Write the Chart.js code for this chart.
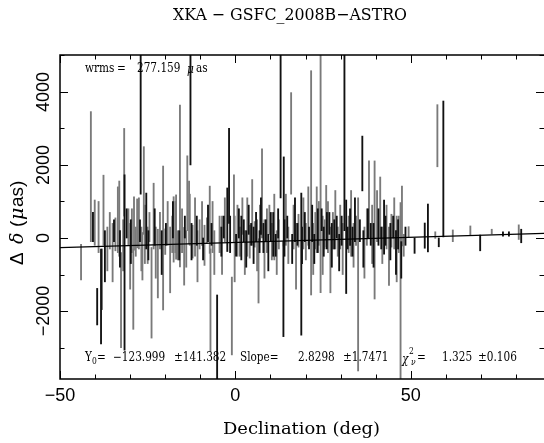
<!DOCTYPE html>
<html>
<head>
<meta charset="utf-8">
<script src="https://cdn.jsdelivr.net/npm/chart.js@4/dist/chart.umd.min.js"></script>
<style>
 body{margin:0;background:#fff;}
 #box{width:544px;height:443px;}
</style>
</head>
<body>
<div id="box"><canvas id="grafico" width="544" height="443"></canvas></div>
<script>
//Datos (declinacion, valor central, error)
const grayDec = [-44.0,-41.2,-40.1,-38.0,-37.6,-33.1,-32.6,-31.7,-29.1,-28.9,-28.0,-26.5,-26.1,-23.9,-22.1,-20.6,-17.6,-16.9,-15.8,-14.6,-13.7,-13.2,-7.3,-7.1,-1.0,-0.4,6.6,7.6,15.9,21.6,23.2,24.3,25.9,35.0,38.1,39.7,41.3,47.1,47.5,57.6,
 -39.0,-36.5,-35.8,-35.0,-34.2,-33.5,-32.0,-30.5,-30.0,-29.5,-28.4,-27.5,-26.8,-25.8,-25.0,-24.5,-23.3,-22.7,-21.5,-20.0,-19.3,-18.6,-18.0,-17.1,-16.4,-15.2,-14.0,-13.0,-12.2,-11.5,-10.8,-10.2,-9.5,-8.8,-8.1,-6.5,-6.0,-4.5,-3.8,-3.0,-0.2,0.6,1.3,2.0,2.7,3.4,4.1,4.8,5.5,6.2,7.0,8.3,9.0,9.7,10.4,11.1,11.8,12.4,14.4,15.1,16.6,17.3,18.0,19.4,20.1,20.8,22.2,22.8,23.8,24.9,25.5,26.4,27.1,27.8,28.5,29.2,29.9,30.6,32.3,33.0,33.7,34.4,36.8,37.5,39.0,40.4,41.9,43.1,43.8,44.5,45.3,46.0,46.6,48.0,
 49.4,57.0,62.0,67.0,73.1,80.8];
const grayVal = [-660,1680,420,-1130,760,530,-1700,1800,-1400,400,400,-500,1300,-1500,-700,0,235,300,1425,-500,1225,700,500,-1700,-2135,800,-900,1220,2590,1510,500,3000,600,-1270,1050,220,835,-2000,600,2800,
 300,-300,200,-400,100,500,-200,300,-500,200,-100,400,-300,100,-200,300,600,-400,200,-100,400,-600,100,300,-200,200,-300,500,-100,300,-500,100,400,-200,200,300,-400,100,-200,500,-300,200,-100,600,-400,300,-100,700,100,-200,400,-300,200,500,-100,300,-400,100,500,-200,300,-500,200,400,-100,600,-300,200,400,-200,100,300,-600,200,500,-100,300,-300,100,400,-200,200,-400,300,100,600,-200,300,-500,200,400,-300,100,-200,
 170,80,60,205,175,160];
const grayErr = [490,1780,620,830,960,1030,1300,1200,1100,730,670,650,1200,1240,940,1970,895,880,2215,790,1025,860,920,1400,1065,930,880,1220,1390,3070,900,4500,840,2370,1060,1890,835,2970,820,850,
 700,600,500,800,450,900,700,500,900,600,400,700,600,800,500,400,900,700,500,350,600,900,500,700,400,600,500,700,450,800,700,400,600,550,350,700,600,500,800,600,900,700,400,500,600,800,450,900,350,700,500,800,600,400,500,900,600,400,700,500,600,900,450,700,500,800,700,500,600,800,400,700,900,500,800,400,600,700,500,900,600,400,700,500,800,700,500,600,800,450,700,900,500,300,
 140,90,160,125,65,200];

const blackDec = [-39.4,-38.3,-31.6,-27.0,-25.4,-12.8,-5.2,-2.3,-1.8,12.9,13.7,13.8,18.8,31.1,31.6,36.2,42.4,59.3,
 -40.6,-37.2,-34.6,-32.9,-31.0,-29.8,-27.2,-24.8,-23.0,-21.0,-19.8,-17.8,-16.0,-14.4,-12.5,-11.0,-9.2,-7.8,-6.8,-4.0,-3.3,-1.5,0.2,1.0,1.7,2.4,3.1,3.8,4.5,5.2,5.9,6.9,7.3,8.0,8.7,9.4,10.1,10.8,11.5,12.2,14.0,14.8,16.2,17.0,17.7,19.0,19.8,21.0,21.9,22.5,23.5,24.6,25.2,26.1,26.8,27.5,28.2,28.9,29.6,30.3,32.0,32.7,33.4,34.1,35.5,36.5,37.8,38.6,39.4,40.8,41.6,42.8,44.2,45.0,45.8,46.4,47.3,48.5,
 51.1,54.0,54.9,58.0,69.8,76.3,78.0,81.5];
const blackVal = [-1880,-1600,-670,4600,465,5500,-3280,500,1700,5000,-1400,1000,-715,4600,-240,2040,300,1890,
 300,-500,200,-300,400,-100,200,-200,300,-400,100,500,-200,300,-100,200,-300,400,100,-100,300,100,-200,400,0,200,-300,500,100,-200,300,-100,600,0,200,-400,300,100,-200,400,0,300,-300,500,100,-200,300,0,400,-300,200,500,-100,200,400,-200,100,300,-400,200,0,300,-100,500,200,-300,400,100,-200,300,0,200,-100,300,-400,100,-600,50,
 -210,65,275,-120,-135,110,110,55];
const blackErr = [500,1300,2400,3400,765,3500,1720,870,1300,3900,1300,1220,1945,4400,1280,750,740,1860,
 400,700,300,500,400,600,300,400,500,600,300,500,400,300,500,400,300,500,300,400,300,500,300,400,600,300,500,400,300,500,400,300,500,400,300,500,400,600,300,400,500,300,400,600,300,500,400,300,500,400,600,300,400,500,300,600,400,300,500,400,300,500,400,600,300,500,400,300,600,500,300,400,500,300,600,400,500,250,
 210,345,655,120,215,60,60,185];

//Parametros del ajuste lineal
const fitY0 = -123.999;
const fitSlope = 2.8298;
const fitX = [-50, 88];

//Marcas de los ejes
const xTickVals = [-50, 0, 50];
const xTickLabels = ['\u221250', '0', '50'];
const yTickVals = [-2000, 0, 2000, 4000];
const yTickLabels = ['\u22122000', '0', '2000', '4000'];

//Armo las barras flotantes [y-err, y+err]
function armarBarras(decs, vals, errs) {
 let puntos = [];
 for (let i = 0; i < decs.length; i++) {
  puntos.push({x: decs[i], y: [vals[i] - errs[i], vals[i] + errs[i]]});
 }
 return puntos;
}

//Escribe varios trozos de texto: [texto, x, fuente, desplazamiento y, ancho deseado]
function escribir(ctx, trozos, y, compresion) {
 for (const t of trozos) {
  ctx.font = t[2];
  const yy = y + (t[3] || 0);
  let k = compresion || 1;
  if (t[4]) k = t[4] / ctx.measureText(t[0]).width;
  ctx.save();
  ctx.translate(t[1], yy);
  ctx.scale(k, 1);
  ctx.fillText(t[0], 0, 0);
  ctx.restore();
 }
}

//Plugin para dibujar marco, marcas y textos al estilo PGPLOT
const decoracion = {
 id: 'decoracion',
 afterDraw(chart) {
  const ctx = chart.ctx;
  const a = chart.chartArea;
  const sx = chart.scales.x, sy = chart.scales.y;
  ctx.save();
  ctx.strokeStyle = '#000';
  ctx.lineWidth = 1.5;
  ctx.beginPath();
  ctx.moveTo(a.right, a.top); ctx.lineTo(a.left, a.top);
  ctx.lineTo(a.left, a.bottom); ctx.lineTo(a.right, a.bottom);
  ctx.stroke();

  ctx.lineWidth = 1;
  ctx.beginPath();
  for (let v = -50; v <= 80; v += 10) {
   const px = Math.round(sx.getPixelForValue(v)) + 0.5;
   const len = (v % 50 === 0) ? 8 : 4.5;
   ctx.moveTo(px, a.bottom); ctx.lineTo(px, a.bottom - len);
   ctx.moveTo(px, a.top); ctx.lineTo(px, a.top + len);
  }
  for (let v = -3000; v <= 5000; v += 1000) {
   const py = Math.round(sy.getPixelForValue(v)) + 0.5;
   const len = (v % 2000 === 0) ? 8 : 4.5;
   ctx.moveTo(a.left, py); ctx.lineTo(a.left + len, py);
   ctx.moveTo(a.right, py); ctx.lineTo(a.right - len, py);
  }
  ctx.stroke();

  ctx.fillStyle = '#000';
  //Etiquetas del eje x
  ctx.font = '18px "Liberation Sans"';
  ctx.textAlign = 'center';
  ctx.textBaseline = 'middle';
  for (let i = 0; i < xTickVals.length; i++) {
   ctx.fillText(xTickLabels[i], sx.getPixelForValue(xTickVals[i]), 396);
  }
  //Etiquetas del eje y (rotadas)
  for (let i = 0; i < yTickVals.length; i++) {
   ctx.save();
   ctx.translate(44, sy.getPixelForValue(yTickVals[i]));
   ctx.rotate(-Math.PI / 2);
   ctx.fillText(yTickLabels[i], 0, 0);
   ctx.restore();
  }

  //Titulo y nombre del eje x
  ctx.textAlign = 'left';
  escribir(ctx, [['XKA \u2212 GSFC_2008B\u2212ASTRO', 173, '17px "DejaVu Serif"', 0, 234]], 16);
  escribir(ctx, [['Declination (deg)', 223, '16px "DejaVu Serif"', 0, 157]], 430);

  //Nombre del eje y
  ctx.save();
  ctx.translate(18, 215);
  ctx.rotate(-Math.PI / 2);
  const sans = '19px "Liberation Sans"', ital = 'italic 19px "DejaVu Serif"';
  escribir(ctx, [['\u0394', -50, sans], ['\u03b4', -29, ital], ['(', -12, sans], ['\u03bc', -5, ital], ['as)', 8, sans]], 0);
  ctx.restore();

  //Textos internos
  const f = '12.5px "DejaVu Serif"', fi = 'italic 12.5px "DejaVu Serif"', fs = '9px "DejaVu Serif"', fsi = 'italic 9px "DejaVu Serif"';
  escribir(ctx, [['wrms', 85, f], ['=', 117, f], ['277.159', 137, f], ['\u03bc', 187, fi, 1], ['as', 196, f]], 69, 0.84);
  escribir(ctx, [['Y', 85, f], ['0', 92, fs, 4], ['=', 97, f], ['\u2212123.999', 113, f], ['\u00b1141.382', 174, f],
   ['Slope=', 240, f], ['2.8298', 298, f], ['\u00b11.7471', 343, f],
   ['\u03c7', 402, fi, 2], ['2', 409, fs, -6], ['\u03bd', 411, fsi, 5], ['=', 417, f],
   ['1.325', 442, f], ['\u00b10.106', 478, f]], 358, 0.84);
  ctx.restore();
 }
};

var canvas = document.getElementById('grafico');
new Chart(canvas, {
 type: 'bar',
 data: {
  datasets: [
   {
    type: 'line',
    data: fitX.map(v => ({x: v, y: fitY0 + fitSlope * v})),
    borderColor: '#000',
    borderWidth: 1.3,
    pointRadius: 0,
    order: 0,
    clip: 0
   },
   {
    data: armarBarras(blackDec, blackVal, blackErr),
    backgroundColor: '#111',
    barThickness: 1.2,
    grouped: false,
    order: 1,
    clip: 0
   },
   {
    data: armarBarras(grayDec, grayVal, grayErr),
    backgroundColor: '#7a7a7a',
    barThickness: 1.2,
    grouped: false,
    order: 2,
    clip: 0
   }
  ]
 },
 options: {
  responsive: false,
  animation: false,
  layout: {padding: {left: 60, right: 0, top: 55, bottom: 64}},
  plugins: {legend: {display: false}, tooltip: {enabled: false}},
  scales: {
   x: {type: 'linear', min: -50, max: 88, offset: false, display: false},
   y: {type: 'linear', min: -3860, max: 5010, display: false}
  }
 },
 plugins: [decoracion]
});
</script>
</body>
</html>
